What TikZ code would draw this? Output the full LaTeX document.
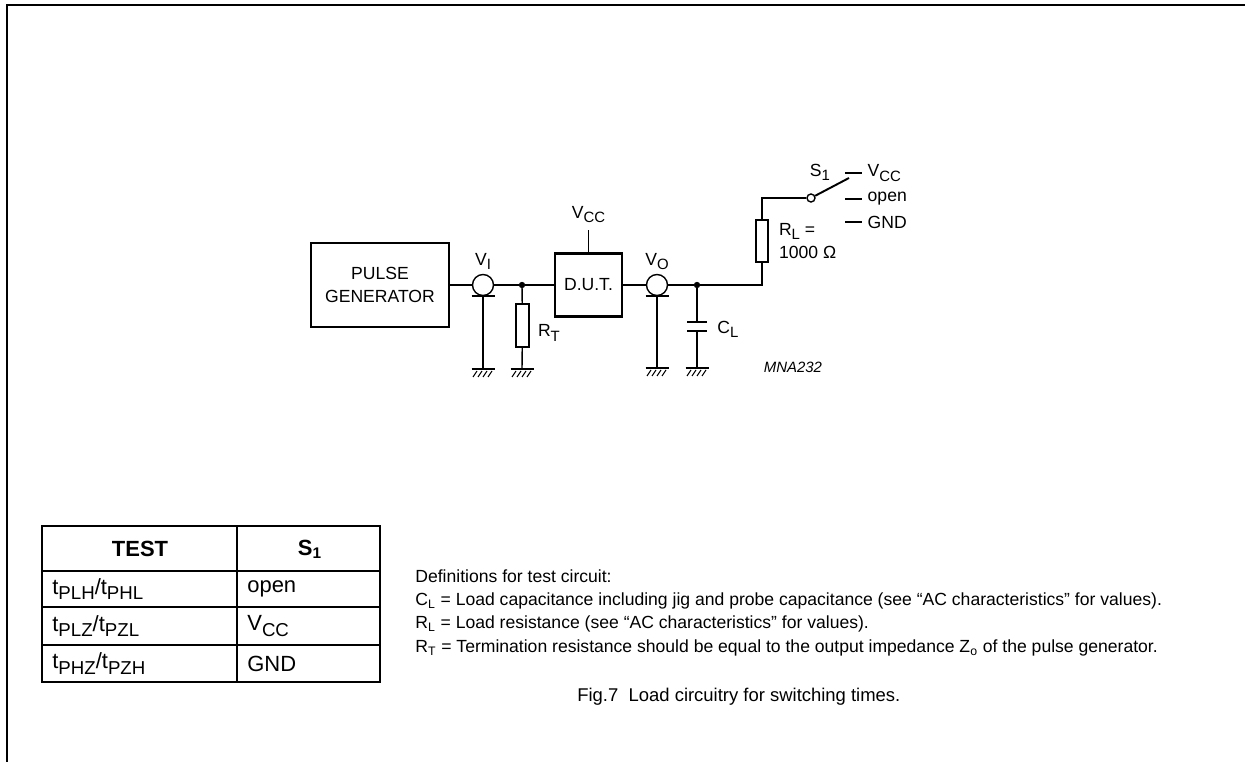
\documentclass[tikz,border=0pt]{standalone}
\usepackage{fontspec}
\setmainfont{Liberation Sans}
\usetikzlibrary{positioning,calc}
\tikzstyle{block} = [draw, rectangle, line width=1.7pt, align=center, inner sep=0pt]
\tikzstyle{probe} = [draw, circle, line width=0.8pt, minimum size=4.2mm, inner sep=0pt]
\tikzstyle{junction} = [draw, circle, fill, inner sep=0pt, minimum size=1.1mm]
\tikzstyle{res} = [draw, rectangle, line width=0.8pt, minimum width=2.6mm, minimum height=8.6mm, inner sep=0pt]
\tikzstyle{wire} = [line width=0.8pt]
\tikzstyle{lbl} = [inner sep=0pt, font=\fontsize{10}{13}\selectfont]
\tikzstyle{cell} = [inner sep=0pt, anchor=west, font=\fontsize{12.5}{15}\selectfont]
\tikzstyle{note} = [inner sep=0pt, anchor=west, font=\fontsize{10}{12}\selectfont]
\newcommand{\lowsub}[1]{\raisebox{-0.45ex}{\scalebox{0.85}{#1}}}

\begin{document}
\begin{tikzpicture}[x=0.2mm, y=-0.2mm]
    \useasboundingbox (0,0) rectangle (1245,762);
    \draw [line width=1.2pt] (7,762) -- (7,5) -- (1245,5);

    % circuit
    \node (pg) [block, minimum width=27.6mm, minimum height=16.8mm, font=\fontsize{10}{13}\selectfont] at (380,285) {PULSE\\GENERATOR};
    \node (vi) [probe] at (483,285) {};
    \node (j1) [junction] at (522,285) {};
    \node (rt) [res] at (522.5,325.5) {};
    \node (dut) [block, minimum width=13.4mm, minimum height=12.6mm, font=\fontsize{10}{13}\selectfont] at (588.5,285) {D.U.T.};
    \coordinate (vcc) at ($(dut.north)+(0,-22)$);
    \node (vo) [probe] at (657,285) {};
    \node (j2) [junction] at (697,285) {};
    \coordinate (ct) at (697,322);
    \coordinate (cb) at (697,331);
    \coordinate (cl) at (697,326.5);
    \coordinate (k) at (762,285);
    \node (rl) [res, minimum width=2.4mm, minimum height=8.4mm] at (762,241) {};
    \coordinate (k2) at (762,198);
    \node (piv) [draw, circle, line width=0.8pt, minimum size=1.6mm, inner sep=0pt] at (811,198) {};
    \coordinate (sw) at (849,178);
    \coordinate (g1) at (483,369);
    \coordinate (g2) at (522,369);
    \coordinate (g3) at (657,368);
    \coordinate (g4) at (697,368);

    \draw [wire] (pg) -- (vi);
    \draw [wire] (vi) -- (j1) -- (j1-|dut.west);
    \draw [wire] (j1) -- (rt) -- (g2);
    \draw [wire] (vi.south) -- (g1);
    \draw [wire] (dut.north) -- (vcc);
    \draw [wire] (dut) -- (vo);
    \draw [wire] (vo) -- (j2) -- (k) -- (rl) -- (k2) -- (piv);
    \draw [wire] (vo.south) -- (g3);
    \draw [wire] (j2) -- (ct);
    \draw [wire] (cb) -- (g4);
    \draw [line width=1.7pt] ($(ct)+(-10,0)$) -- ($(ct)+(10,0)$);
    \draw [line width=1.7pt] ($(cb)+(-10,0)$) -- ($(cb)+(10,0)$);
    \draw [line width=1.1pt] (piv) -- (sw);
    \foreach \p in {vi,vo}
        \draw [wire] ($(\p.south)+(-11.5,0)$) -- ($(\p.south)+(11.5,0)$);
    \foreach \g in {g1,g2,g3,g4} {
        \draw [line width=1.7pt] ($(\g)+(-11.5,0)$) -- ($(\g)+(11.5,0)$);
        \foreach \i in {0,...,3}
            \draw [line width=0.6pt] ($(\g)+(-10+\i*5,8)$) -- ($(\g)+(-6+\i*5,2)$);
    }
    \foreach \y/\t [count=\i] in {173/{V\lowsub{CC}}, 199/open, 222/GND} {
        \coordinate (c\i) at (845,\y);
        \draw [wire] (c\i) -- ++(17,0) node [lbl, right=1mm] {\t};
    }

    \node (lvi) [lbl, above=0.8mm of vi] {V\lowsub{I}};
    \node (lvo) [lbl, above=0.8mm of vo] {V\lowsub{O}};
    \node (lvcc) [lbl, above=1mm of vcc, yshift=0.4mm] {V\lowsub{CC}};
    \node (lrt) [lbl, right=1.6mm of rt, yshift=-1.5mm] {R\lowsub{T}};
    \node (lcl) [lbl, right=4mm of cl, yshift=-0.6mm] {C\lowsub{L}};
    \node (lrl) [lbl, align=left, right=2mm of rl] {R\lowsub{L} =\\1000 Ω};
    \node (ls1) [lbl, above=2.4mm of piv, xshift=1.8mm] {S\lowsub{1}};
    \node (code) [inner sep=0pt, font=\fontsize{8.5}{9}\selectfont\itshape] at (793,367) {MNA232};

    % table
    \draw [line width=1.2pt] (42,526) rectangle (380,682);
    \draw [line width=1.2pt] (237,526) -- (237,682);
    \foreach \y in {571,607,645}
        \draw [line width=1.2pt] (42,\y) -- (380,\y);
    \node (hd1) [cell, anchor=center, font=\fontsize{12.5}{15}\selectfont\bfseries] at (140,549) {TEST};
    \node (hd2) [cell, anchor=center, font=\fontsize{12.5}{15}\selectfont\bfseries] at (310,549) {S\textsubscript{1}};
    \node (t1) [cell] at (52,589) {t\lowsub{PLH}/t\lowsub{PHL}};
    \node (t2) [cell] at (52,626) {t\lowsub{PLZ}/t\lowsub{PZL}};
    \node (t3) [cell] at (52,663.5) {t\lowsub{PHZ}/t\lowsub{PZH}};
    \node (s1) [cell] at (247,589) {open};
    \node (s2) [cell] at (247,626) {V\lowsub{CC}};
    \node (s3) [cell] at (247,663.5) {GND};

    % definitions
    \node (d0) [note] at (415,576) {Definitions for test circuit:};
    \node (d1) [note] at (415,601) {C\textsubscript{L} = Load capacitance including jig and probe capacitance (see ``AC characteristics'' for values).};
    \node (d2) [note] at (415,624) {R\textsubscript{L} = Load resistance (see ``AC characteristics'' for values).};
    \node (d3) [note] at (415,648) {R\textsubscript{T} = Termination resistance should be equal to the output impedance Z\textsubscript{o} of the pulse generator.};
    \node (cap) [note, font=\fontsize{10.5}{12}\selectfont] at (577,697) {Fig.7\ \ Load circuitry for switching times.};
\end{tikzpicture}
\end{document}
